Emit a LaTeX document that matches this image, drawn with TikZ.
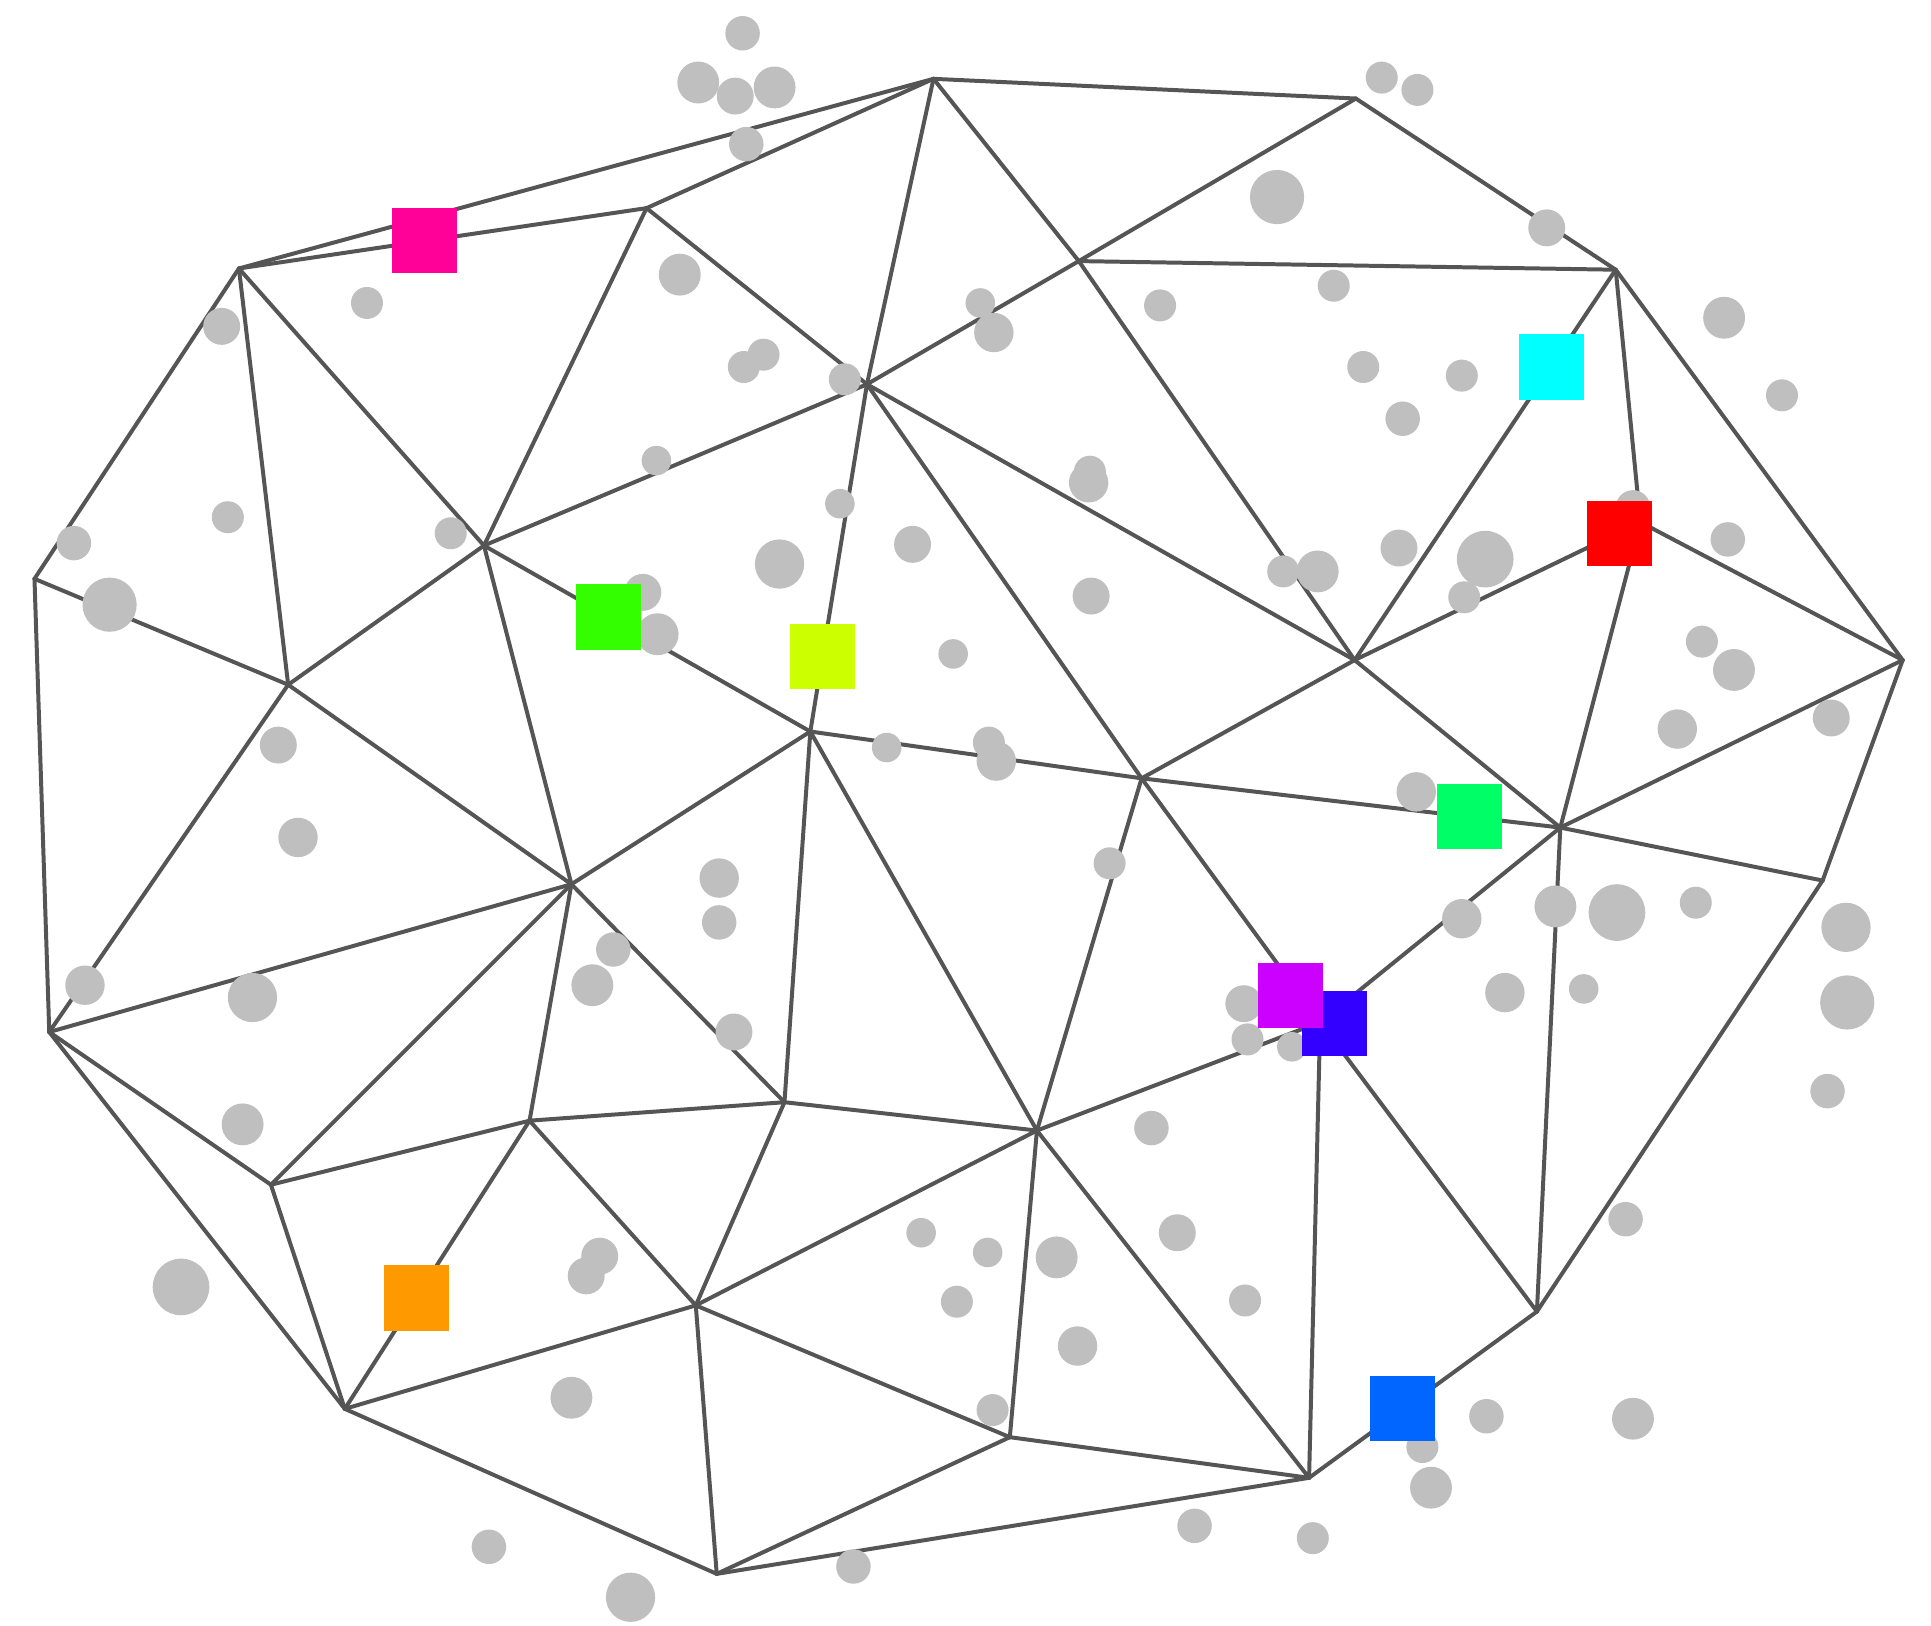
\documentclass[tikz,border=0pt]{standalone}
\usepackage{xcolor}
\usetikzlibrary{positioning}
\definecolor{meshgray}{HTML}{555555}
\definecolor{spotgray}{HTML}{BFBFBF}
\definecolor{mkpink}{HTML}{FF0099}
\definecolor{mkcyan}{HTML}{00FFFF}
\definecolor{mkred}{HTML}{FF0000}
\definecolor{mkgreen}{HTML}{33FF00}
\definecolor{mkyellow}{HTML}{CCFF00}
\definecolor{mkspring}{HTML}{00FF66}
\definecolor{mkpurple}{HTML}{CC00FF}
\definecolor{mkindigo}{HTML}{3300FF}
\definecolor{mkorange}{HTML}{FF9900}
\definecolor{mkblue}{HTML}{0066FF}

\begin{document}
\begin{tikzpicture}[
    x=0.01cm, y=-0.01cm,
    edge/.style={draw=meshgray, line width=0.92pt, line cap=round, line join=round},
    spot/.style={fill=spotgray},
    marker/.style={inner sep=0pt, minimum size=0.528cm, draw=none}
]
    \useasboundingbox (0,0) rectangle (1568,1320);

    % Mesh vertices
    \coordinate (A) at (758,64);
    \coordinate (B) at (1101,80);
    \coordinate (C) at (1312,219);
    \coordinate (D) at (1545,536);
    \coordinate (E) at (1480,715);
    \coordinate (F) at (1248,1065);
    \coordinate (G) at (1063,1200);
    \coordinate (H) at (582,1278);
    \coordinate (I) at (280,1144);
    \coordinate (J) at (40,838);
    \coordinate (K) at (28,470);
    \coordinate (L) at (194,218);
    \coordinate (M) at (525,169);
    \coordinate (N) at (876,212);
    \coordinate (O) at (704,312);
    \coordinate (P) at (393,443);
    \coordinate (Q) at (234,556);
    \coordinate (R) at (658,594);
    \coordinate (S) at (1100,536);
    \coordinate (T) at (1332,424);
    \coordinate (U) at (927,632);
    \coordinate (V) at (1267,672);
    \coordinate (W) at (464,718);
    \coordinate (X) at (1072,830);
    \coordinate (Y) at (842,918);
    \coordinate (Z) at (637,895);
    \coordinate (a) at (430,910);
    \coordinate (b) at (220,962);
    \coordinate (c) at (565,1060);
    \coordinate (d) at (820,1167);

    % Edges
    \foreach \p/\q in {L/A, L/M, M/A, A/B, B/C, C/D, D/E, E/F, F/G, G/H, H/I, I/J, J/K, K/L,
        A/O, A/N, B/N, N/C, N/O, N/S, C/S, C/T, T/D, T/S, T/V, D/V, V/E, S/V, S/U, O/S,
        O/U, O/R, O/P, M/O, M/P, L/P, L/Q, K/Q, Q/P, P/R, P/W, Q/W, Q/J, J/W, J/b,
        W/R, W/b, W/a, W/Z, R/Z, R/Y, R/U, U/V, U/Y, U/X, V/X, X/Y, X/F, X/G, V/F,
        Y/G, Y/d, Y/c, Y/Z, Z/a, Z/c, a/b, a/c, a/I, b/I, c/I, c/H, c/d, d/G, d/H}
        \draw[edge] (\p) -- (\q);

    % Gray spots
    \foreach \x/\y/\r in {603/27/14, 567/67/17, 597/78/15, 629/71/17, 606/117/14,
        1122/63/13, 1151/73/13, 1037/160/22, 1256/185/15, 298/246/13, 552/223/17,
        180/265/15, 796/246/12, 807/270/16, 942/248/13, 1083/232/13, 620/288/13,
        604/298/13, 686/308/13, 1107/298/13, 1187/305/13, 1139/340/14, 1400/258/17,
        1447/321/13, 533/374/12, 885/383/13, 884/392/16, 682/409/12, 185/420/13,
        366/433/13, 60/441/14, 89/491/22, 633/458/20, 741/442/15, 1136/445/15,
        1206/454/23, 1042/464/13, 1070/464/17, 1403/438/14, 522/481/15, 534/515/17,
        886/484/15, 1189/485/13, 774/531/12, 1382/521/13, 1408/544/17, 1362/592/16,
        1487/583/15, 226/605/15, 720/607/12, 803/603/13, 809/618/16, 1150/643/16,
        242/680/16, 584/713/16, 584/749/14, 901/701/13, 1187/746/16, 1263/736/17,
        1313/741/23, 1377/733/13, 1499/753/20, 1500/814/22, 498/771/14, 481/800/17,
        69/800/16, 205/810/20, 1222/806/16, 1286/803/12, 1010/815/15, 1013/844/13,
        1049/850/12, 596/838/15, 197/913/17, 935/916/14, 1484/886/14, 1320/990/14,
        748/1001/12, 956/1001/15, 802/1017/12, 858/1021/17, 487/1020/15, 476/1036/15,
        147/1045/23, 777/1057/13, 1011/1056/13, 875/1093/16, 464/1135/17, 806/1145/13,
        1207/1150/14, 1326/1152/17, 1155/1175/13, 1162/1208/17, 970/1239/14,
        1066/1249/13, 397/1256/14, 693/1272/14, 512/1297/20, 1326/412/14}
        \fill[spot] (\x,\y) circle[radius={\r*0.01cm}];

    % Colored markers
    \node[marker, fill=mkpink] (pink) at (345,195) {};
    \node[marker, fill=mkcyan] (cyan) at (1260,298) {};
    \node[marker, fill=mkred] (red) at (1315,433) {};
    \node[marker, fill=mkgreen] (green) at (494,501) {};
    \node[marker, fill=mkyellow] (yellow) at (668,533) {};
    \node[marker, fill=mkspring] (spring) at (1193,663) {};
    \node[marker, fill=mkindigo] (indigo) at (1084,831) {};
    \node[marker, fill=mkpurple] (purple) at (1048,808) {};
    \node[marker, fill=mkorange] (orange) at (338,1054) {};
    \node[marker, fill=mkblue] (blue) at (1139,1144) {};
\end{tikzpicture}
\end{document}
